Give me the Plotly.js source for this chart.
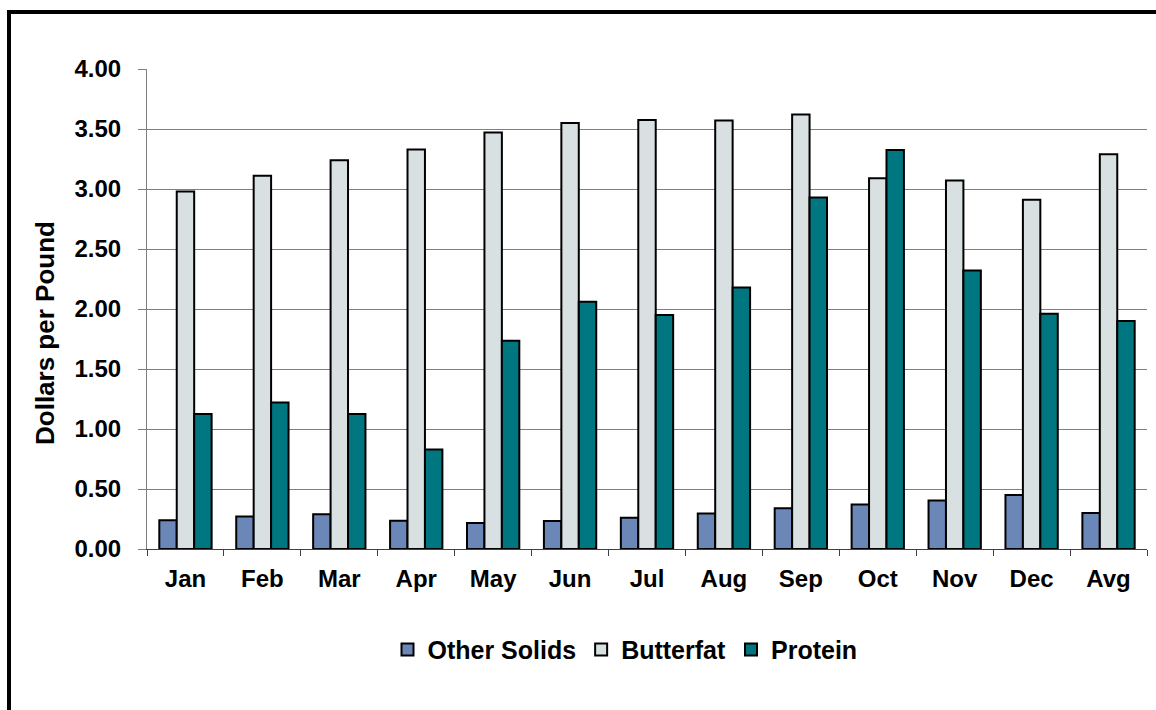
<!DOCTYPE html>
<html>
<head>
<meta charset="utf-8">
<script src="https://cdn.plot.ly/plotly-3.0.1.min.js"></script>
<style>
html,body{margin:0;padding:0;background:#fff;}
#chart{width:1156px;height:710px;}
</style>
</head>
<body>
<div id="chart"></div>
<script>
const months = ["Jan","Feb","Mar","Apr","May","Jun","Jul","Aug","Sep","Oct","Nov","Dec","Avg"];
const otherSolids = [0.24,0.27,0.29,0.235,0.217,0.233,0.26,0.295,0.34,0.37,0.405,0.45,0.30];
const butterfat = [2.98,3.11,3.24,3.33,3.47,3.55,3.575,3.57,3.62,3.09,3.07,2.91,3.29];
const protein = [1.125,1.22,1.125,0.83,1.735,2.06,1.95,2.18,2.93,3.325,2.32,1.96,1.90];
const seriesNames = ["Other Solids","Butterfat","Protein"];
const seriesColors = ["#6B87B7","#D8E0E2","#007680"];

const FONT = "'Liberation Sans', Arial, Helvetica, sans-serif";
const vals = [otherSolids, butterfat, protein];
const traces = vals.map((v,i)=>({
  type:"bar", name:seriesNames[i], x:months, y:v,
  marker:{color:seriesColors[i], line:{color:"#000", width:2}},
  hoverinfo:"x+y+name"
}));

const layout = {
  width:1156, height:710,
  paper_bgcolor:"#fff", plot_bgcolor:"#fff",
  margin:{l:147, r:9, t:69, b:161},
  barmode:"group", bargap:0.32, bargroupgap:0,
  font:{family:FONT, color:"#000"},
  showlegend:true,
  legend:{orientation:"h", x:0.478, xanchor:"center", y:-0.21, yanchor:"middle",
    font:{family:FONT, size:25, weight:700, color:"#000"}, itemwidth:30, traceorder:"normal"},
  xaxis:{type:"category", showgrid:false, showline:true, linecolor:"#404040", linewidth:1,
    ticks:"outside", tickson:"boundaries", ticklen:6, tickcolor:"#404040",
    tickfont:{family:FONT, size:24, weight:700, color:"#000"}, ticklabelstandoff:8},
  yaxis:{range:[0,4], dtick:0.5, tick0:0, tickformat:".2f", showgrid:true, gridcolor:"#808080", gridwidth:1,
    showline:true, linecolor:"#808080", linewidth:1, ticks:"outside", ticklen:8, tickcolor:"#808080",
    zeroline:false, tickfont:{family:FONT, size:24, weight:700, color:"#000"}, ticklabelstandoff:12},
  annotations:[{text:"Dollars per Pound", xref:"paper", yref:"paper", x:-0.102, y:0.45,
    xanchor:"center", yanchor:"middle", textangle:-90, showarrow:false,
    font:{family:FONT, size:26, weight:700, color:"#000"}}],
  shapes:[{type:"rect", xref:"paper", yref:"paper", x0:-0.138, x1:1.013, y0:-0.3458, y1:1.11875,
    line:{color:"#000", width:4}, fillcolor:"rgba(0,0,0,0)", layer:"above"}]
};
Plotly.newPlot("chart", traces, layout, {displayModeBar:false, staticPlot:true});
</script>
</body>
</html>
